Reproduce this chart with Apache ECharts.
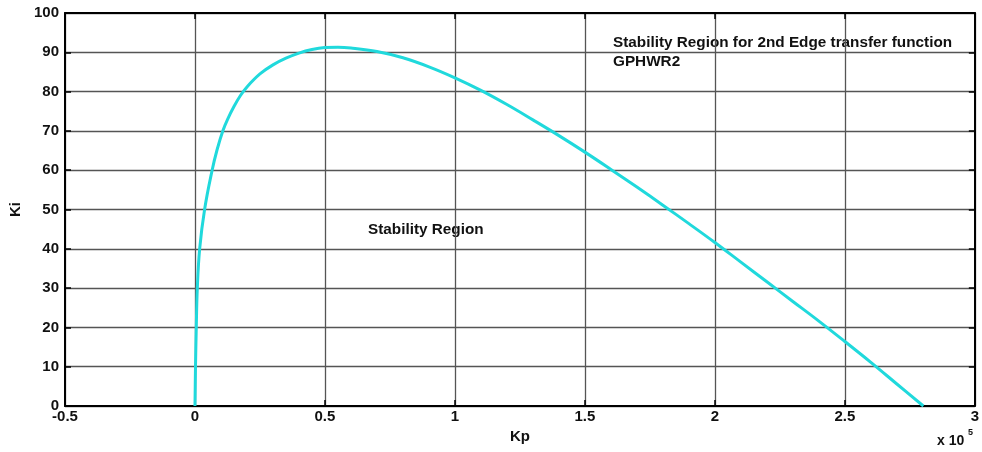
<!DOCTYPE html>
<html>
<head>
<meta charset="utf-8">
<script src="https://cdn.jsdelivr.net/npm/echarts@6/dist/echarts.min.js"></script>
<style>
html,body{margin:0;padding:0;background:#fff;}
#chart{width:982px;height:452px;}
</style>
</head>
<body>
<div id="chart"></div>
<script>
// Kp values in units of 1e5
var kpValues = [0, 0.001, 0.002, 0.005, 0.009, 0.018, 0.037, 0.066, 0.085, 0.107, 0.125, 0.15, 0.175, 0.2, 0.25, 0.3, 0.35, 0.4, 0.45, 0.5, 0.55, 0.6, 0.7, 0.8, 0.9, 1.0, 1.1, 1.2, 1.3, 1.4, 1.5, 1.6, 1.7, 1.8, 1.9, 2.0, 2.1, 2.2, 2.3, 2.4, 2.5, 2.6, 2.7, 2.802];
var kiValues = [0, 5, 10, 20, 30, 40, 50, 60, 65.2, 70, 72.9, 76.2, 79.0, 81.2, 84.5, 86.8, 88.5, 89.8, 90.7, 91.2, 91.3, 91.1, 90.2, 88.6, 86.3, 83.5, 80.3, 76.7, 72.8, 68.8, 64.6, 60.2, 55.7, 51.1, 46.4, 41.6, 36.6, 31.6, 26.6, 21.6, 16.4, 11.1, 5.6, 0];
var xTickLabels = ['-0.5', '0', '0.5', '1', '1.5', '2', '2.5', '3'];
var yTickLabels = ['0', '10', '20', '30', '40', '50', '60', '70', '80', '90', '100'];
var annotationTop = ['Stability Region for 2nd Edge transfer function', 'GPHWR2'];
var annotationMid = 'Stability Region';

var FONT = 'Liberation Sans, Arial, sans-serif';
var chart = echarts.init(document.getElementById('chart'), null, {renderer: 'canvas'});

var data = kpValues.map(function (x, i) { return [x, kiValues[i]]; });

var lab = {color: '#111', fontFamily: FONT, fontSize: 15, fontWeight: 'bold'};
var gridColor = '#555';

function xLabel(v) {
  var s = String(Math.round(v * 10) / 10);
  return xTickLabels.indexOf(s) >= 0 ? s : '';
}
function yLabel(v) {
  var s = String(Math.round(v));
  return yTickLabels.indexOf(s) >= 0 ? s : '';
}
var frameLine = {show: true, onZero: false, lineStyle: {color: '#000', width: 2}};
var inTick = {show: true, inside: true, length: 6, lineStyle: {color: '#000', width: 1.5}};

chart.setOption({
  animation: false,
  backgroundColor: '#fff',
  grid: {left: 62, right: 7, top: 13, bottom: 46, containLabel: false},
  xAxis: [{
    type: 'value', min: -0.5, max: 3, interval: 0.5, position: 'bottom',
    name: 'Kp', nameLocation: 'middle', nameGap: 23,
    nameTextStyle: {color: '#111', fontFamily: FONT, fontSize: 15, fontWeight: 'bold'},
    axisLine: frameLine, axisTick: inTick,
    axisLabel: Object.assign({margin: 3, formatter: xLabel}, lab),
    splitLine: {show: true, lineStyle: {color: gridColor, width: 1.3}}
  }, {
    type: 'value', min: -0.5, max: 3, interval: 0.5, position: 'top',
    axisLine: frameLine, axisTick: inTick,
    axisLabel: {show: false}, splitLine: {show: false}
  }],
  yAxis: [{
    type: 'value', min: 0, max: 100, interval: 10, position: 'left',
    name: 'Ki', nameLocation: 'middle', nameGap: 42,
    nameTextStyle: {color: '#111', fontFamily: FONT, fontSize: 15, fontWeight: 'bold'},
    axisLine: frameLine, axisTick: inTick,
    axisLabel: Object.assign({margin: 6, formatter: yLabel}, lab),
    splitLine: {show: true, lineStyle: {color: gridColor, width: 1.3}}
  }, {
    type: 'value', min: 0, max: 100, interval: 10, position: 'right',
    axisLine: frameLine, axisTick: inTick,
    axisLabel: {show: false}, splitLine: {show: false}
  }],
  series: [{
    type: 'line', xAxisIndex: 0, yAxisIndex: 0,
    data: data, smooth: 0.4, showSymbol: false,
    lineStyle: {color: '#20D9DC', width: 3}
  }],
  graphic: [
    {type: 'text', left: 613, top: 33, style: {text: annotationTop.join('\n'), fill: '#111', font: 'bold 15.3px ' + FONT, lineHeight: 19}},
    {type: 'text', left: 368, top: 222, style: {text: annotationMid, fill: '#111', font: 'bold 15.3px ' + FONT}},
    {type: 'text', left: 937, top: 434, style: {text: 'x 10', fill: '#111', font: 'bold 14px ' + FONT}},
    {type: 'text', left: 968, top: 428, style: {text: '5', fill: '#111', font: 'bold 9px ' + FONT}}
  ]
});
</script>
</body>
</html>
